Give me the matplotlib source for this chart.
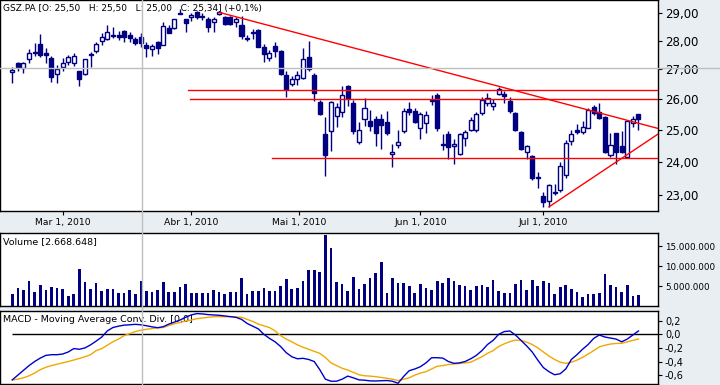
import numpy as np
import matplotlib.pyplot as plt
from matplotlib.lines import Line2D
from matplotlib.ticker import FixedLocator, NullLocator
from matplotlib.transforms import blended_transform_factory

plt.rcParams["axes.unicode_minus"] = False

# daily candles GSZ.PA, 16 Feb - 26 Jul 2010
opens = [26.90, 27.21, 27.03, 27.34, 27.58, 27.88, 27.57, 27.38, 26.85, 27.07,
         27.26, 27.22, 26.93, 26.85, 27.50, 27.64, 28.00, 28.05, 28.22, 28.20,
         28.34, 28.22, 28.06, 28.12, 27.84, 27.72, 27.94, 27.86, 28.45, 28.45,
         29.02, 28.77, 28.84, 29.03, 28.84, 28.78, 28.69, 28.96, 28.86, 28.86,
         28.69, 28.56, 28.09, 28.30, 28.38, 27.76, 27.38, 27.80, 27.63, 26.80,
         26.51, 26.66, 26.69, 27.41, 26.82, 25.89, 24.85, 24.96, 25.45, 25.58,
         26.42, 25.87, 24.61, 25.33, 25.27, 25.33, 25.33, 25.25, 24.24, 24.53,
         24.96, 25.66, 25.60, 25.04, 25.22, 25.93, 26.14, 24.55, 24.86, 24.50,
         24.25, 24.74, 25.00, 24.98, 25.53, 25.86, 25.77, 26.17, 26.16, 25.94,
         25.53, 24.93, 24.30, 24.19, 23.54, 22.97, 22.83, 23.07, 23.15, 23.61,
         24.64, 25.00, 24.93, 25.06, 25.72, 25.58, 25.41, 24.20, 24.88, 24.49,
         24.15, 25.20, 25.50]
highs = [27.07, 27.25, 27.26, 27.70, 27.93, 28.24, 27.73, 27.46, 27.14, 27.38,
         27.49, 27.58, 26.95, 27.35, 27.60, 27.96, 28.26, 28.56, 28.48, 28.34,
         28.38, 28.32, 28.12, 28.26, 27.96, 27.90, 27.98, 28.68, 28.56, 28.80,
         29.17, 28.80, 29.00, 29.09, 29.02, 28.86, 28.84, 29.09, 28.89, 28.89,
         28.86, 28.89, 28.20, 28.41, 28.41, 27.90, 27.67, 27.96, 27.67, 26.95,
         26.76, 26.93, 27.73, 27.98, 26.86, 25.97, 25.42, 25.92, 25.87, 26.44,
         26.45, 25.97, 25.25, 26.04, 25.63, 25.45, 25.52, 25.59, 24.56, 25.00,
         25.69, 25.89, 25.69, 25.58, 25.60, 26.14, 26.19, 24.86, 24.97, 24.70,
         24.88, 24.98, 25.40, 25.58, 26.07, 26.19, 25.99, 26.41, 26.27, 26.07,
         25.58, 24.95, 24.52, 24.22, 23.69, 23.10, 23.34, 23.34, 24.00, 24.67,
         24.98, 25.19, 25.27, 25.69, 25.80, 25.86, 25.45, 24.88, 24.90, 24.96,
         25.30, 25.45, 25.50]
lows = [26.53, 26.93, 26.88, 27.22, 27.45, 27.43, 27.22, 26.57, 26.52, 26.93,
        27.14, 27.11, 26.44, 26.80, 27.09, 27.57, 27.84, 28.01, 28.08, 28.01,
        27.96, 27.96, 27.84, 27.79, 27.43, 27.46, 27.54, 27.84, 28.26, 28.43,
        28.96, 28.32, 28.71, 28.77, 28.73, 28.32, 28.32, 28.92, 28.56, 28.56,
        28.51, 28.05, 28.00, 28.05, 27.76, 27.26, 27.30, 27.43, 26.82, 26.07,
        26.42, 26.45, 26.66, 26.95, 25.94, 25.48, 23.56, 24.32, 25.08, 25.41,
        25.76, 24.85, 24.54, 25.11, 24.96, 24.48, 24.40, 24.82, 23.85, 24.42,
        24.88, 25.48, 25.20, 24.69, 24.88, 25.80, 24.96, 24.36, 24.08, 23.94,
        24.21, 24.50, 24.96, 24.93, 25.48, 25.76, 25.63, 26.14, 25.86, 25.53,
        24.96, 24.37, 24.07, 23.44, 23.21, 22.66, 22.66, 23.00, 23.10, 23.50,
        24.52, 24.87, 24.85, 25.04, 25.48, 25.33, 24.28, 24.15, 23.94, 24.26,
        24.13, 25.08, 25.00]
closes = [26.97, 27.07, 27.21, 27.58, 27.60, 27.48, 27.48, 26.74, 27.00, 27.21,
          27.41, 27.46, 26.67, 27.34, 27.52, 27.90, 28.12, 28.32, 28.18, 28.12,
          28.14, 28.08, 27.93, 27.93, 27.75, 27.80, 27.75, 28.53, 28.29, 28.77,
          28.98, 28.63, 28.92, 28.86, 28.89, 28.51, 28.78, 29.03, 28.60, 28.60,
          28.78, 28.18, 28.07, 28.27, 27.78, 27.53, 27.55, 27.65, 26.85, 26.33,
          26.66, 26.82, 27.34, 27.01, 26.19, 25.51, 24.21, 25.89, 25.74, 26.14,
          26.03, 24.96, 25.00, 25.69, 25.12, 24.88, 25.16, 24.91, 24.30, 24.60,
          25.60, 25.58, 25.25, 25.51, 25.48, 25.95, 25.06, 24.53, 24.45, 24.56,
          24.86, 24.93, 25.30, 25.51, 25.96, 26.03, 25.87, 26.32, 26.10, 25.61,
          24.98, 24.39, 24.49, 23.50, 23.50, 22.81, 23.29, 23.09, 23.87, 24.59,
          24.87, 24.93, 25.08, 25.63, 25.55, 25.36, 24.31, 24.51, 24.31, 24.31,
          25.27, 25.33, 25.34]

# volume in millions of shares
volumes = [3.0, 4.6, 4.0, 6.25, 3.6, 5.25, 4.0, 4.75, 4.5, 4.25,
           2.5, 3.0, 9.25, 6.0, 4.25, 5.75, 3.75, 4.25, 4.25, 3.25,
           3.25, 4.0, 3.0, 6.25, 3.75, 3.5, 4.0, 6.0, 3.5, 3.5,
           4.75, 5.5, 3.25, 3.25, 3.25, 3.25, 4.0, 3.5, 3.0, 3.5,
           3.5, 7.0, 3.0, 3.75, 3.75, 4.5, 3.75, 3.75, 5.0, 6.75,
           4.25, 4.5, 6.25, 9.0, 9.0, 8.5, 17.75, 14.5, 6.0, 5.5,
           3.75, 7.25, 4.25, 5.5, 7.0, 8.25, 11.0, 3.25, 7.0, 5.75,
           5.75, 5.0, 3.25, 5.5, 4.5, 4.0, 6.25, 5.75, 7.0, 6.25,
           5.25, 5.0, 4.0, 5.0, 5.25, 4.75, 6.5, 3.75, 3.25, 3.25,
           5.5, 6.5, 4.0, 6.5, 5.0, 6.25, 5.75, 3.0, 4.75, 5.25,
           4.25, 3.5, 2.25, 3.0, 3.0, 3.25, 8.0, 5.25, 4.75, 3.5,
           5.25, 2.5, 2.67]

macd = [-0.67, -0.60, -0.53, -0.46, -0.40, -0.35, -0.31, -0.30, -0.30, -0.29,
        -0.26, -0.21, -0.22, -0.20, -0.155, -0.10, -0.04, 0.05, 0.10, 0.12,
        0.135, 0.14, 0.147, 0.14, 0.126, 0.11, 0.097, 0.112, 0.15, 0.18,
        0.21, 0.25, 0.285, 0.305, 0.30, 0.29, 0.285, 0.28, 0.27, 0.26,
        0.25, 0.22, 0.16, 0.12, 0.08, 0.00, -0.06, -0.11, -0.18, -0.27,
        -0.33, -0.36, -0.353, -0.37, -0.40, -0.52, -0.66, -0.69, -0.69, -0.66,
        -0.615, -0.64, -0.67, -0.675, -0.685, -0.687, -0.683, -0.68, -0.69, -0.72,
        -0.62, -0.535, -0.51, -0.476, -0.42, -0.345, -0.344, -0.35, -0.40, -0.427,
        -0.42, -0.40, -0.36, -0.31, -0.24, -0.15, -0.09, 0.00, 0.04, 0.049,
        -0.01, -0.09, -0.17, -0.26, -0.38, -0.49, -0.55, -0.595, -0.58, -0.51,
        -0.37, -0.30, -0.22, -0.15, -0.06, -0.01, -0.04, -0.055, -0.07, -0.11,
        -0.07, -0.01, 0.049]
signal = [-0.672, -0.66, -0.64, -0.61, -0.57, -0.52, -0.485, -0.46, -0.44, -0.42,
          -0.40, -0.378, -0.355, -0.33, -0.30, -0.24, -0.21, -0.16, -0.11, -0.07,
          -0.02, 0.01, 0.04, 0.06, 0.074, 0.085, 0.095, 0.10, 0.13, 0.155,
          0.175, 0.195, 0.21, 0.23, 0.24, 0.25, 0.259, 0.26, 0.259, 0.258,
          0.255, 0.25, 0.22, 0.19, 0.15, 0.125, 0.10, 0.05, -0.02, -0.07,
          -0.11, -0.155, -0.19, -0.22, -0.25, -0.28, -0.34, -0.42, -0.46, -0.50,
          -0.525, -0.56, -0.595, -0.61, -0.615, -0.623, -0.635, -0.647, -0.66, -0.68,
          -0.66, -0.64, -0.60, -0.57, -0.55, -0.51, -0.47, -0.46, -0.445, -0.437,
          -0.43, -0.42, -0.41, -0.37, -0.33, -0.28, -0.24, -0.18, -0.14, -0.108,
          -0.085, -0.09, -0.115, -0.15, -0.20, -0.26, -0.32, -0.37, -0.41, -0.427,
          -0.41, -0.38, -0.34, -0.29, -0.24, -0.185, -0.16, -0.143, -0.135, -0.132,
          -0.11, -0.09, -0.069]

# date axis (bar index of each label; May 1 falls on a Saturday)
date_ticks = [9, 32, 51.33, 73, 95]
date_labels = ["Mar 1, 2010", "Abr 1, 2010", "Mai 1, 2010", "Jun 1, 2010", "Jul 1, 2010"]

price_ticks = [23, 24, 25, 26, 27, 28, 29]
vol_ticks = [5, 10, 15]
vol_labels = ["5.000.000", "10.000.000", "15.000.000"]
macd_ticks = [-0.6, -0.4, -0.2, 0.0, 0.2]

# hand drawn lines: (bar0, price0, bar1, price1)
trend_lines = [
    (37.0, 29.03, 115.5, 25.04),
    (96.0, 22.66, 115.5, 24.86),
    (31.4, 26.30, 115.5, 26.30),
    (31.8, 26.00, 115.5, 26.00),
    (46.5, 24.10, 115.5, 24.10),
]

# crosshair position (bar, price)
cursor = (23.15, 27.04)

NAVY = "#000080"
BG = "#E9EEF2"

fig = plt.figure(figsize=(7.2, 3.85), dpi=100, facecolor=BG)
ax_p = fig.add_axes([0.0, 0.4519, 0.9139, 0.5481])
ax_v = fig.add_axes([0.0, 0.2052, 0.9139, 0.1896])
ax_m = fig.add_axes([0.0, 0.0026, 0.9139, 0.1896])

x = np.arange(len(closes))
o = np.array(opens)
c = np.array(closes)
xlim = (-2.2, 115.5)


def style_axis(ax, fs):
    ax.set_facecolor("white")
    ax.set_xlim(*xlim)
    ax.yaxis.tick_right()
    ax.tick_params(axis="y", labelsize=fs, length=3, pad=2, width=0.8)
    for sp in ax.spines.values():
        sp.set_color("black")
        sp.set_linewidth(1)


# price panel
style_axis(ax_p, 8.5)
ax_p.set_yscale("log")
ax_p.set_ylim(22.54, 29.49)
ax_p.yaxis.set_major_locator(FixedLocator(price_ticks))
ax_p.yaxis.set_minor_locator(NullLocator())
ax_p.set_yticklabels([f"{t:.2f}".replace(".", ",") for t in price_ticks])
ax_p.set_xticks(date_ticks)
ax_p.set_xticklabels(date_labels)
ax_p.tick_params(axis="x", labelsize=6.7, length=3, pad=2, width=0.8)

ax_p.vlines(x, lows, highs, color=NAVY, lw=1, zorder=3)
up = c >= o
body_h = np.maximum(np.abs(c - o), 0.015)
ax_p.bar(x[up], body_h[up], bottom=o[up], width=0.72, facecolor="white",
         edgecolor=NAVY, linewidth=1, zorder=4)
ax_p.bar(x[~up], body_h[~up], bottom=c[~up], width=0.72, facecolor=NAVY,
         edgecolor=NAVY, linewidth=1, zorder=4)

for x0, p0, x1, p1 in trend_lines:
    ax_p.plot([x0, x1], [p0, p1], color="red", lw=1, zorder=5)

ax_p.text(0.005, 0.962, "GSZ.PA [O: 25,50   H: 25,50   L: 25,00   C: 25,34] (+0,1%)",
          transform=ax_p.transAxes, fontsize=6.5, va="center", ha="left", zorder=6)

# volume panel
style_axis(ax_v, 6.3)
ax_v.bar(x, volumes, width=0.48, color=NAVY, zorder=3)
ax_v.set_ylim(0, 18.3)
ax_v.set_yticks(vol_ticks)
ax_v.set_yticklabels(vol_labels)
ax_v.set_xticks([])
ax_v.text(0.005, 0.88, "Volume [2.668.648]", transform=ax_v.transAxes,
          fontsize=6.8, va="center", ha="left")

# MACD panel
style_axis(ax_m, 7)
ax_m.set_ylim(-0.731, 0.343)
ax_m.set_yticks(macd_ticks)
ax_m.set_yticklabels([f"{t:.1f}".replace(".", ",").replace("-0,0", "0,0") for t in macd_ticks])
ax_m.set_xticks([])
ax_m.hlines(0, 0, xlim[1], color="black", lw=1, zorder=2)
ax_m.plot(x, signal, color="#F0A800", lw=1, zorder=3)
ax_m.plot(x, macd, color="#0000CC", lw=1, zorder=4)
ax_m.text(0.005, 0.877, "MACD - Moving Average Conv. Div. [0,0]", transform=ax_m.transAxes,
          fontsize=6.8, va="center", ha="left", zorder=1)

# crosshair
vtrans = blended_transform_factory(ax_p.transData, fig.transFigure)
fig.add_artist(Line2D([cursor[0], cursor[0]], [0, 1], transform=vtrans,
                      color="#BEBEBE", lw=1, zorder=10))
htrans = blended_transform_factory(fig.transFigure, ax_p.transData)
fig.add_artist(Line2D([0, 1], [cursor[1], cursor[1]], transform=htrans,
                      color="#BEBEBE", lw=1, zorder=0.5))

fig.savefig("out.png", dpi=100, facecolor=BG)
